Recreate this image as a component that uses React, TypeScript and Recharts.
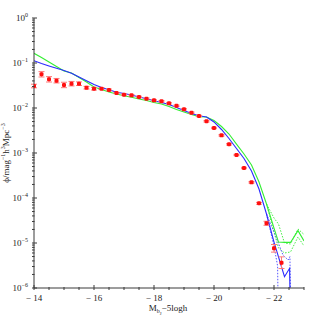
import React from "react";
import {
  ComposedChart,
  Line,
  Scatter,
  ErrorBar,
  XAxis,
  YAxis,
} from "recharts";

// ─── data ─────────────────────────────────────────────────────

// observed luminosity function (red points)
const obsMag = [
  -14, -14.25, -14.5, -14.75, -15, -15.25, -15.5, -15.75, -16, -16.25, -16.5,
  -16.75, -17, -17.25, -17.5, -17.75, -18, -18.25, -18.5, -18.75, -19, -19.25,
  -19.5, -19.75, -20, -20.25, -20.5, -20.75, -21, -21.25, -21.5, -21.75, -22,
  -22.25,
];
const obsPhi = [
  0.0308, 0.0561, 0.0434, 0.0404, 0.0325, 0.0347, 0.0347, 0.0283, 0.0269,
  0.0269, 0.0251, 0.0215, 0.0198, 0.0191, 0.0176, 0.0161, 0.0148, 0.0141,
  0.0127, 0.0112, 0.00936, 0.00787, 0.00664, 0.00506, 0.0036, 0.00247,
  0.00156, 0.000903, 0.000464, 0.000223, 7.62e-5, 2.74e-5, 7.62e-6, 3.65e-6,
];
const obsErrDex = [
  0.04, 0.06, 0.06, 0.05, 0.06, 0.05, 0.04, 0.03, 0.03, 0.02, 0.02, 0.015,
  0.015, 0.015, 0.015, 0.015, 0.015, 0.015, 0.015, 0.015, 0.015, 0.015, 0.015,
  0.015, 0.015, 0.015, 0.015, 0.015, 0.015, 0.015, 0.02, 0.045, 0.085, 0.13,
];

// model curves
const greenMag = [
  -14, -14.25, -14.5, -14.75, -15, -15.25, -15.5, -15.75, -16, -16.25, -16.5,
  -16.75, -17, -17.25, -17.5, -17.75, -18, -18.25, -18.5, -18.75, -19, -19.25,
  -19.5, -19.75, -20, -20.25, -20.5, -20.75, -21, -21.25, -21.5, -21.75, -22,
  -22.15, -22.35, -22.55, -22.8, -23,
];
const greenPhi = [
  0.1643, 0.1325, 0.1052, 0.0836, 0.0664, 0.0599, 0.0476, 0.0378, 0.0293,
  0.0258, 0.0227, 0.0205, 0.0187, 0.0173, 0.0158, 0.0147, 0.0133, 0.0123,
  0.0108, 0.00926, 0.00815, 0.00717, 0.00641, 0.00631, 0.00528, 0.00388,
  0.00264, 0.00158, 0.00095, 0.000541, 0.000227, 7.36e-5, 2.15e-5, 1.05e-5,
  1.03e-5, 1.03e-5, 1.88e-5, 1.11e-5,
];
const greenBandMag = [-21.75, -22, -22.15, -22.35, -22.55, -22.8, -23];
const greenHiPhi = [7.36e-5, 3.59e-5, 2.64e-5, 1.0e-5, 9.5e-6, 2.05e-5, 1.55e-5];
const greenLoPhi = [7.36e-5, 1.76e-5, 7.74e-6, 6.0e-6, 6.31e-6, 1.36e-5, 8.58e-6];

const blueMag = [
  -14, -14.25, -14.5, -14.75, -15, -15.25, -15.5, -15.75, -16, -16.25, -16.5,
  -16.75, -17, -17.25, -17.5, -17.75, -18, -18.25, -18.5, -18.75, -19, -19.25,
  -19.5, -19.75, -20, -20.25, -20.5, -20.75, -21, -21.25, -21.5, -21.75, -22,
  -22.35, -22.52, -22.58,
];
const bluePhi = [
  0.1125, 0.0974, 0.0858, 0.0762, 0.0681, 0.0593, 0.0489, 0.0402, 0.0333,
  0.0285, 0.0254, 0.0223, 0.021, 0.0195, 0.0176, 0.016, 0.0145, 0.0133, 0.012,
  0.0103, 0.0088, 0.00755, 0.00671, 0.00631, 0.00489, 0.00333, 0.0021,
  0.00126, 0.000755, 0.000398, 0.000158, 4.41e-5, 1.05e-5, 1.78e-6, 2.74e-6,
  1e-8,
];
const blueHiMag = [-21.75, -22, -22.3, -22.47, -22.53, -22.6];
const blueHiPhi = [4.41e-5, 1.76e-5, 5.41e-6, 4.19e-6, 4.96e-6, 1e-8];
const blueLoMag = [-21.75, -22, -22.12, -22.17];
const blueLoPhi = [4.41e-5, 8.58e-6, 3.08e-6, 1e-8];

// axes
const magTicks = [
  -14, -14.5, -15, -15.5, -16, -16.5, -17, -17.5, -18, -18.5, -19, -19.5, -20,
  -20.5, -21, -21.5, -22, -22.5, -23,
];
const magLabels = [-14, -16, -18, -20, -22];
const decades = [0, -1, -2, -3, -4, -5, -6];
const minorMult = [2, 3, 4, 5, 6, 7, 8, 9];

const FONT = "'Liberation Serif', 'DejaVu Serif', serif";
const AXIS = "#3a3a3a";

const zip = (xs: number[], ys: number[]) =>
  xs.map((mag, i) => ({ mag, phi: ys[i] }));

const obsData = obsMag.map((mag, i) => {
  const phi = obsPhi[i];
  const f = Math.pow(10, obsErrDex[i]);
  return { mag, phi, err: [phi - phi / f, phi * f - phi] };
});

const logTicks: number[] = [];
decades.forEach((d) => {
  logTicks.push(Math.pow(10, d));
  if (d > -6) minorMult.forEach((m) => logTicks.push(m * Math.pow(10, d - 1)));
});

const isDecade = (v: number) =>
  Math.abs(Math.log10(v) - Math.round(Math.log10(v))) < 1e-6;

// ─── tick renderers (ticks point into the frame) ─────────────

function BottomTick({ x, y, payload }: any) {
  const v = payload.value;
  const major = magLabels.includes(v);
  return (
    <g>
      <line x1={x} y1={y} x2={x} y2={y - (major ? 5 : 3)} stroke={AXIS} />
      {major && (
        <text x={x} y={y + 11} textAnchor="middle" fontSize={9} fontFamily={FONT} fill="#222">
          {"\u2212 " + Math.abs(v)}
        </text>
      )}
    </g>
  );
}

function TopTick({ x, y, payload }: any) {
  const major = magLabels.includes(payload.value);
  return <line x1={x} y1={y} x2={x} y2={y + (major ? 5 : 3)} stroke={AXIS} />;
}

function LeftTick({ x, y, payload }: any) {
  const v = payload.value;
  const major = isDecade(v);
  const e = Math.round(Math.log10(v));
  return (
    <g>
      <line x1={x} y1={y} x2={x + (major ? 5 : 2.5)} y2={y} stroke={AXIS} />
      {major && (
        <text x={x - 4} y={y + 3} textAnchor="end" fontSize={9} fontFamily={FONT} fill="#222">
          10
          <tspan fontSize={6} dy={-4}>
            {e === 0 ? "0" : "\u2212" + Math.abs(e)}
          </tspan>
        </text>
      )}
    </g>
  );
}

function RightTick({ x, y, payload }: any) {
  const major = isDecade(payload.value);
  return <line x1={x} y1={y} x2={x - (major ? 5 : 2.5)} y2={y} stroke={AXIS} />;
}

function YTitle({ viewBox }: any) {
  const cx = 9;
  const cy = viewBox.y + viewBox.height / 2;
  return (
    <text
      x={cx}
      y={cy}
      transform={`rotate(-90 ${cx} ${cy})`}
      textAnchor="middle"
      fontSize={9}
      fontFamily={FONT}
      fill="#222"
    >
      {"\u03d5/mag"}
      <tspan fontSize={6} dy={-4}>{"\u22121"}</tspan>
      <tspan dy={4}>h</tspan>
      <tspan fontSize={6} dy={-4}>3</tspan>
      <tspan dy={4}>Mpc</tspan>
      <tspan fontSize={6} dy={-4}>{"\u22123"}</tspan>
    </text>
  );
}

function XTitle({ viewBox }: any) {
  const cx = viewBox.x + viewBox.width / 2 - 1;
  const cy = 311;
  return (
    <text x={cx} y={cy} textAnchor="middle" fontSize={9} fontFamily={FONT} fill="#222">
      M
      <tspan fontSize={6} dy={2}>b</tspan>
      <tspan fontSize={4.5} dy={1.5}>J</tspan>
      <tspan dy={-3.5}>{"\u22125logh"}</tspan>
    </text>
  );
}

function Dot({ cx, cy }: any) {
  return <rect x={cx - 2} y={cy - 2} width={4} height={4} rx={1.2} fill="#ff1010" />;
}

export default function App() {
  return (
    <div style={{ position: "absolute", left: 0, top: 0, background: "#fff" }}>
      <ComposedChart
        width={314}
        height={317}
        margin={{ top: 18, right: 10, bottom: 0, left: 0 }}
      >
        <XAxis
          dataKey="mag"
          type="number"
          domain={[-23, -14]}
          reversed
          ticks={magTicks}
          interval={0}
          tickSize={0}
          tickLine={false}
          tick={<BottomTick />}
          axisLine={{ stroke: AXIS }}
          height={29}
          allowDataOverflow
          label={<XTitle />}
        />
        <XAxis
          xAxisId="top"
          orientation="top"
          type="number"
          domain={[-23, -14]}
          reversed
          ticks={magTicks}
          interval={0}
          tickSize={0}
          tickLine={false}
          tick={<TopTick />}
          axisLine={{ stroke: AXIS }}
          height={0}
          allowDataOverflow
        />
        <YAxis
          dataKey="phi"
          type="number"
          scale="log"
          domain={[1e-6, 1]}
          ticks={logTicks}
          interval={0}
          tickSize={0}
          tickLine={false}
          tick={<LeftTick />}
          axisLine={{ stroke: AXIS }}
          width={34}
          allowDataOverflow
          label={<YTitle />}
        />
        <YAxis
          yAxisId="right"
          orientation="right"
          type="number"
          scale="log"
          domain={[1e-6, 1]}
          ticks={logTicks}
          interval={0}
          tickSize={0}
          tickLine={false}
          tick={<RightTick />}
          axisLine={{ stroke: AXIS }}
          width={0}
          allowDataOverflow
        />

        <Line data={zip(greenBandMag, greenHiPhi)} dataKey="phi" stroke="#44ee44" strokeWidth={1} strokeDasharray="1.5 1.5" dot={false} isAnimationActive={false} />
        <Line data={zip(greenBandMag, greenLoPhi)} dataKey="phi" stroke="#44ee44" strokeWidth={1} strokeDasharray="1.5 1.5" dot={false} isAnimationActive={false} />
        <Line data={zip(blueHiMag, blueHiPhi)} dataKey="phi" stroke="#5555ff" strokeWidth={1} strokeDasharray="1.5 1.5" dot={false} isAnimationActive={false} />
        <Line data={zip(blueLoMag, blueLoPhi)} dataKey="phi" stroke="#5555ff" strokeWidth={1} strokeDasharray="1.5 1.5" dot={false} isAnimationActive={false} />
        <Line data={zip(greenMag, greenPhi)} dataKey="phi" stroke="#33ee33" strokeWidth={1.1} dot={false} isAnimationActive={false} />
        <Line data={zip(blueMag, bluePhi)} dataKey="phi" stroke="#2a2aff" strokeWidth={1.1} dot={false} isAnimationActive={false} />

        <Scatter data={obsData} dataKey="phi" shape={<Dot />} isAnimationActive={false}>
          <ErrorBar dataKey="err" direction="y" width={3} stroke="#ff7a7a" strokeWidth={1} />
        </Scatter>
      </ComposedChart>
    </div>
  );
}
